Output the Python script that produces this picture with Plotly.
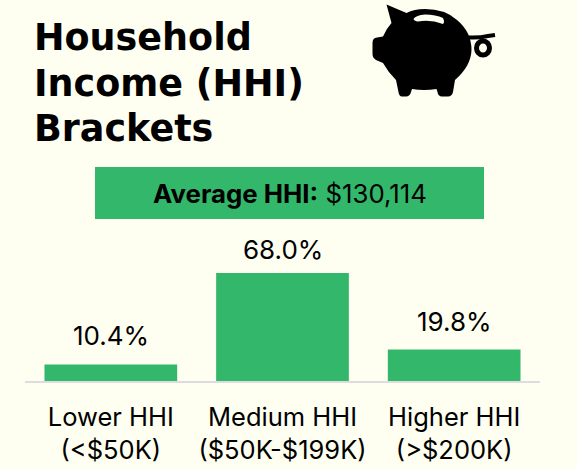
import plotly.graph_objects as go

categories = ["Lower HHI<br>(&lt;$50K)", "Medium HHI<br>($50K-$199K)", "Higher HHI<br>(&gt;$200K)"]
values = [10.4, 68.0, 19.8]
value_labels = ["10.4%", "68.0%", "19.8%"]
title_lines = ["Household", "Income (HHI)", "Brackets"]

W, H = 577, 469
BG = "#FEFFF0"
GREEN = "#33B76A"
FONT = "Inter"
L, R, T, B = 25, 37, 254, 88
label_shift = [16, 11, 16]


def px(x):
    return (x - L) / (W - L - R)


def py(y):
    return (H - B - y) / (H - T - B)


def pt(p):
    return f"{px(p[0]):.5f},{py(p[1]):.5f}"


def path(start, segs, close=True):
    s = "M" + pt(start)
    for seg in segs:
        if len(seg) == 1:
            s += " L" + pt(seg[0])
        else:
            s += " Q" + pt(seg[0]) + " " + pt(seg[1])
    return s + (" Z" if close else "")


pig_body = path((386.5, 4.5), [
    [(406.5, 13)], [(414, 9), (425, 9)], [(445, 9), (457, 20)], [(471.5, 32), (471.5, 50)],
    [(471, 66), (455, 80)], [(453, 92)], [(452, 96.5), (448, 96.5)], [(442, 96.5)],
    [(438, 96.5), (437.5, 92)], [(436.5, 89)], [(424, 91), (412, 89)], [(411, 92)],
    [(410, 96.5), (406, 96.5)], [(402, 96.5)], [(399, 96.5), (398.5, 92)], [(396, 80)],
    [(388, 72), (383, 63)], [(376, 60)], [(372.5, 58), (372.5, 54)], [(372.5, 43)],
    [(372.5, 38), (377, 37.5)], [(383, 36.5)], [(386, 29), (391.5, 23)],
])
pig_slot = path((413.5, 19), [
    [(416, 15), (425, 14.5)], [(436, 14.5), (443, 18)], [(445, 22), (443, 24)],
    [(430, 19), (418, 21.5)], [(414, 21), (413.5, 19)],
])
pig_tail = path((468, 37.5), [[(480, 38), (488, 36)], [(495, 35)]], close=False)

shapes = [
    dict(type="rect", xref="paper", yref="paper", x0=px(95), x1=px(484), y0=py(167), y1=py(219),
         fillcolor=GREEN, line_width=0, layer="below"),
    dict(type="path", xref="paper", yref="paper", path=pig_body, fillcolor="#000000", line_width=0),
    dict(type="path", xref="paper", yref="paper", path=pig_slot, fillcolor=BG, line_width=0),
    dict(type="path", xref="paper", yref="paper", path=pig_tail, line=dict(color="#000000", width=4)),
    dict(type="circle", xref="paper", yref="paper", x0=px(476.5), x1=px(489.5), y0=py(41), y1=py(55),
         fillcolor="rgba(0,0,0,0)", line=dict(color="#000000", width=5)),
]

annotations = [
    dict(text=line, x=px(32), y=py(y), xref="paper", yref="paper", xanchor="left", yanchor="middle",
         showarrow=False, font=dict(family="DejaVu Sans", size=36.5, color="#000000", weight="bold"))
    for line, y in zip(title_lines, [37, 83, 128])
]
annotations.append(
    dict(text="<b>Average HHI:</b> $130,114", x=px(289.5), y=py(193), xref="paper", yref="paper",
         xanchor="center", yanchor="middle", showarrow=False,
         font=dict(family=FONT, size=25.8, color="#000000"))
)
annotations += [
    dict(text=t, x=i, y=v, xref="x", yref="y", xanchor="center", yanchor="bottom", yshift=s - 5,
         showarrow=False, font=dict(family=FONT, size=26, color="#000000"))
    for i, (t, v, s) in enumerate(zip(value_labels, values, label_shift))
]

fig = go.Figure(
    go.Bar(
        x=categories,
        y=values,
        cliponaxis=False,
        marker=dict(color=GREEN, line_width=0),
        hoverinfo="skip",
    )
)
fig.update_layout(
    width=W,
    height=H,
    autosize=False,
    paper_bgcolor=BG,
    plot_bgcolor=BG,
    margin=dict(l=L, r=R, t=T, b=B, pad=0),
    bargap=0.227,
    showlegend=False,
    shapes=shapes,
    annotations=annotations,
    xaxis=dict(showline=True, linecolor="#DDDDDD", linewidth=2, ticks="", showgrid=False,
               tickfont=dict(family=FONT, size=25.5, color="#000000"), fixedrange=True,
               ticklabelstandoff=12, automargin=False),
    yaxis=dict(range=[0, 80], visible=False, fixedrange=True),
)
fig.write_html(
    "out.html",
    config={"displayModeBar": False},
    post_script=f"document.body.style.margin='0';document.body.style.background='{BG}';",
)
